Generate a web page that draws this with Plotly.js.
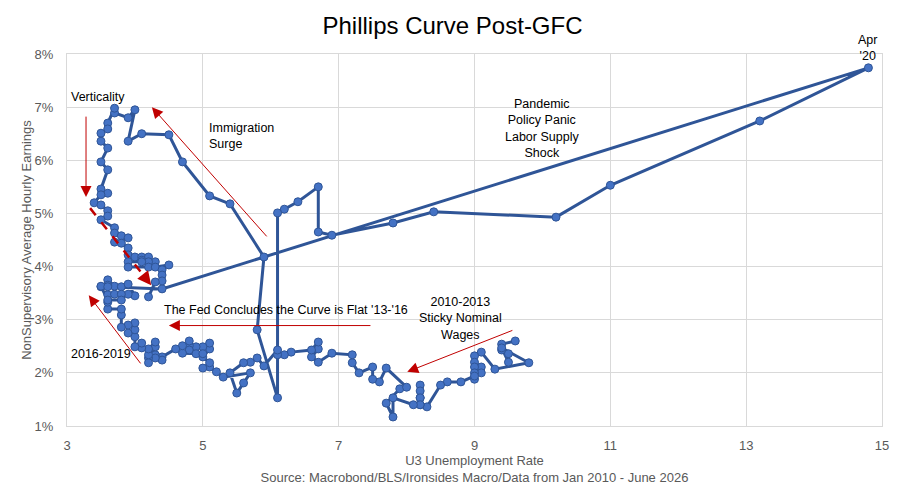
<!DOCTYPE html>
<html>
<head>
<meta charset="utf-8">
<script src="https://cdn.plot.ly/plotly-3.0.1.min.js"></script>
<style>
html,body{margin:0;padding:0;background:#ffffff;}
#chart{width:905px;height:502px;}
</style>
</head>
<body>
<div id="chart"></div>
<script>
// U3 unemployment rate (%), monthly path, Jan 2010 onward
const unemployment = [
  // 2010
  9.6, 9.4, 9.4, 9.5, 9.5, 9.4, 9.8, 9.3,
  // 2011
  9.1, 9.0, 9.0, 9.1, 9.0, 9.1, 9.0, 9.0, 9.0, 8.8, 8.6, 8.5,
  // 2012
  8.3, 8.2, 8.2, 8.2, 8.2, 8.2, 8.2, 8.1, 7.8, 7.8, 7.7, 7.9,
  // 2013
  8.0, 7.7, 7.6, 7.5, 7.5, 7.3, 7.2, 7.2, 6.9, 6.7,
  // 2014
  6.6, 6.7, 6.7, 6.6, 6.3, 6.2, 6.1, 6.1, 5.9, 5.8, 5.7, 5.6,
  // 2015
  5.4, 5.5, 5.6, 5.7, 5.3, 5.2, 5.1, 5.0, 5.1, 5.0, 5.1, 5.1,
  // 2016
  5.0, 4.9, 4.8, 4.8, 4.8, 4.9, 5.0, 4.7, 4.7, 4.6, 4.4, 4.4,
  // 2017
  4.3, 4.3, 4.2, 4.2, 4.2, 4.3, 4.3, 4.2, 4.1, 4.1, 4.0, 4.0,
  // 2018
  3.9, 4.0, 4.0, 3.9, 3.8, 3.8, 3.8, 3.6, 3.6, 3.6, 3.7, 3.7,
  // 2019
  3.6, 3.6, 3.5, 3.8, 3.9, 4.0, 3.9, 3.8, 3.8, 3.6,
  // 2020
  3.5, 3.6, 4.4, 14.8, 13.2, 11.0, 10.2, 8.4, 7.8, 6.9, 6.7, 6.7,
  // 2021
  6.4, 6.2, 6.1, 6.1, 5.8, 5.9, 5.4, 5.1, 4.7, 4.5, 4.1, 3.9,
  // 2022
  4.0, 3.9, 3.7, 3.7, 3.6, 3.6, 3.5, 3.5, 3.6, 3.5, 3.6, 3.5,
  // 2023
  3.6, 3.5, 3.4, 3.5, 3.6, 3.6, 3.5, 3.7, 3.7, 3.8, 3.9, 3.7,
  // 2024
  3.8, 3.9, 3.9, 4.0, 4.1, 4.2, 4.1, 4.3, 4.2, 4.1, 3.9, 3.9,
  // 2025
  4.2, 4.3, 4.5, 4.4, 4.4, 4.4, 4.3, 4.2
];

// Non-supervisory average hourly earnings, YoY growth (%)
const wageGrowth = [
  // 2010
  2.60, 2.54, 2.43, 2.36, 2.20, 2.47, 2.19, 2.07,
  // 2011
  2.39, 2.32, 2.20, 2.11, 2.11, 2.00, 2.00, 1.88, 1.94, 1.83, 1.83, 1.77,
  // 2012
  1.36, 1.40, 1.53, 1.77, 1.66, 1.53, 1.40, 1.40, 1.53, 1.17, 1.43, 1.70,
  // 2013
  1.73, 2.09, 1.83, 1.88, 2.11, 2.00, 2.19, 2.34, 2.37, 2.20,
  // 2014
  2.30, 2.45, 2.58, 2.43, 2.39, 2.34, 2.34, 2.43, 2.13, 2.28, 2.20, 2.19,
  // 2015
  2.00, 1.62, 1.81, 2.00, 1.92, 2.02, 2.11, 2.09, 2.19, 2.30, 2.45, 2.56,
  // 2016
  2.49, 2.49, 2.51, 2.60, 2.43, 2.36, 2.36, 2.37, 2.51, 2.45, 2.30, 2.24,
  // 2017
  2.34, 2.28, 2.28, 2.19, 2.34, 2.49, 2.58, 2.45, 2.47, 2.56, 2.49, 2.68,
  // 2018
  2.75, 2.81, 2.94, 2.90, 2.86, 3.09, 3.20, 3.20, 3.33, 3.47, 3.48, 3.63,
  // 2019
  3.75, 3.65, 3.62, 3.62, 3.67, 3.45, 3.48, 3.48, 3.37, 3.37,
  // 2020
  3.63, 3.62, 3.58, 7.74, 6.74, 5.53, 4.93, 5.03, 4.82, 4.59, 4.65, 5.50,
  // 2021
  5.22, 5.08, 5.01, 1.53, 2.81, 4.18, 5.18, 5.33, 5.97, 6.48, 6.50, 6.36,
  // 2022
  6.95, 6.80, 6.89, 6.98, 6.70, 6.59, 6.51, 6.36, 6.23, 5.97, 5.82, 5.46,
  // 2023
  5.38, 5.35, 5.20, 5.16, 5.05, 4.95, 4.88, 4.73, 4.63, 4.58, 4.54, 4.46,
  // 2024
  4.44, 4.35, 4.22, 4.18, 4.18, 4.18, 4.12, 4.09, 4.09, 4.09, 4.09, 3.99,
  // 2025
  3.99, 3.99, 4.03, 3.94, 3.84, 3.73, 3.71, 3.43
];

const xTicks = [3, 5, 7, 9, 11, 13, 15];
const yTicks = [1, 2, 3, 4, 5, 6, 7, 8];

const chartTitle = 'Phillips Curve Post-GFC';
const xTitle = 'U3 Unemployment Rate<br>Source: Macrobond/BLS/Ironsides Macro/Data from Jan 2010 - June 2026';
const yTitle = 'NonSupervisory Average Hourly Earnings';

// Text notes inside the plot: [text, x, y, xanchor]
const notes = [
  ['Verticality', 3.03, 7.19, 'left'],
  ['Immigration<br>Surge', 5.06, 6.45, 'left'],
  ['Pandemic<br>Policy Panic<br>Labor Supply<br>Shock', 9.99, 6.59, 'center'],
  ['The Fed Concludes the Curve is Flat \'13-\'16', 4.40, 3.18, 'left'],
  ['2010-2013<br>Sticky Nominal<br>Wages', 8.80, 3.03, 'center'],
  ['2016-2019', 3.03, 2.36, 'left']
];
// Label above the plot for the April 2020 point: [text, x, yPaper]
const peakLabel = ['Apr<br>\'20', 14.79, 1.016];

// Red arrows: [tailX, tailY, headX, headY]
const arrows = [
  [3.28, 6.85, 3.28, 5.31],
  [5.96, 4.54, 4.25, 7.00],
  [7.49, 2.89, 4.50, 2.89],
  [9.58, 2.81, 8.01, 2.02],
  [4.10, 2.15, 3.32, 3.46]
];
// Dashed red arrow: [tailX, tailY, headX, headY]
const dashedArrow = [3.34, 5.10, 4.24, 3.65];

const red = '#c00000';
const annotations = [];
notes.forEach(n => {
  annotations.push({
    text: n[0], x: n[1], y: n[2], xref: 'x', yref: 'y',
    xanchor: n[3], yanchor: 'middle', align: n[3] === 'left' ? 'left' : 'center',
    showarrow: false, font: {size: 12.5, color: '#000000'}
  });
});
annotations.push({
  text: peakLabel[0], x: peakLabel[1], y: peakLabel[2], xref: 'x', yref: 'paper',
  xanchor: 'center', yanchor: 'middle', align: 'center',
  showarrow: false, font: {size: 12.5, color: '#000000'}
});
arrows.forEach(a => {
  annotations.push({
    x: a[2], y: a[3], ax: a[0], ay: a[1],
    xref: 'x', yref: 'y', axref: 'x', ayref: 'y',
    text: '', showarrow: true, arrowhead: 2, arrowsize: 2.2,
    arrowwidth: 1, arrowcolor: red, standoff: 0
  });
});
// head for dashed arrow
const dTail = [dashedArrow[0] + 0.85 * (dashedArrow[2] - dashedArrow[0]),
               dashedArrow[1] + 0.85 * (dashedArrow[3] - dashedArrow[1])];
annotations.push({
  x: dashedArrow[2], y: dashedArrow[3], ax: dTail[0], ay: dTail[1],
  xref: 'x', yref: 'y', axref: 'x', ayref: 'y',
  text: '', showarrow: true, arrowhead: 2, arrowsize: 1.1,
  arrowwidth: 2.5, arrowcolor: red, standoff: 0
});

const shapes = [{
  type: 'line', xref: 'x', yref: 'y',
  x0: dashedArrow[0], y0: dashedArrow[1], x1: dTail[0], y1: dTail[1],
  line: {color: red, width: 2.5, dash: 'dash'}
}];

const trace = {
  type: 'scatter', mode: 'lines+markers',
  x: unemployment, y: wageGrowth,
  line: {color: '#2f5597', width: 3},
  marker: {size: 8, color: '#4472c4', line: {color: '#2f5597', width: 1}},
  hoverinfo: 'skip', cliponaxis: false
};

const layout = {
  width: 905, height: 502,
  margin: {l: 67, r: 23, t: 54, b: 76, pad: 0},
  paper_bgcolor: '#ffffff', plot_bgcolor: '#ffffff',
  font: {family: 'Liberation Sans, Arial, sans-serif', size: 13, color: '#595959'},
  showlegend: false,
  title: {
    text: chartTitle, x: 0.5, xanchor: 'center', xref: 'container',
    y: 1 - 26 / 502, yanchor: 'middle', yref: 'container',
    font: {size: 24, color: '#000000'}
  },
  xaxis: {
    range: [3, 15], tickvals: xTicks, ticktext: xTicks.map(String),
    showgrid: true, gridcolor: '#d9d9d9', gridwidth: 1,
    showline: true, linecolor: '#d9d9d9', linewidth: 1, mirror: true,
    zeroline: false, ticks: '', ticklabelstandoff: 7,
    tickfont: {size: 13, color: '#595959'},
    title: {text: xTitle, font: {size: 13, color: '#595959'}, standoff: 4},
    automargin: false
  },
  yaxis: {
    range: [1, 8], tickvals: yTicks, ticktext: yTicks.map(v => v + '%'),
    showgrid: true, gridcolor: '#d9d9d9', gridwidth: 1,
    showline: true, linecolor: '#d9d9d9', linewidth: 1, mirror: true,
    zeroline: false, ticks: '', ticklabelstandoff: 10,
    tickfont: {size: 13, color: '#595959'},
    title: {text: yTitle, font: {size: 13, color: '#595959'}, standoff: 0},
    automargin: false
  },
  annotations: annotations,
  shapes: shapes
};

Plotly.newPlot('chart', [trace], layout, {displayModeBar: false, staticPlot: true});
</script>
</body>
</html>
